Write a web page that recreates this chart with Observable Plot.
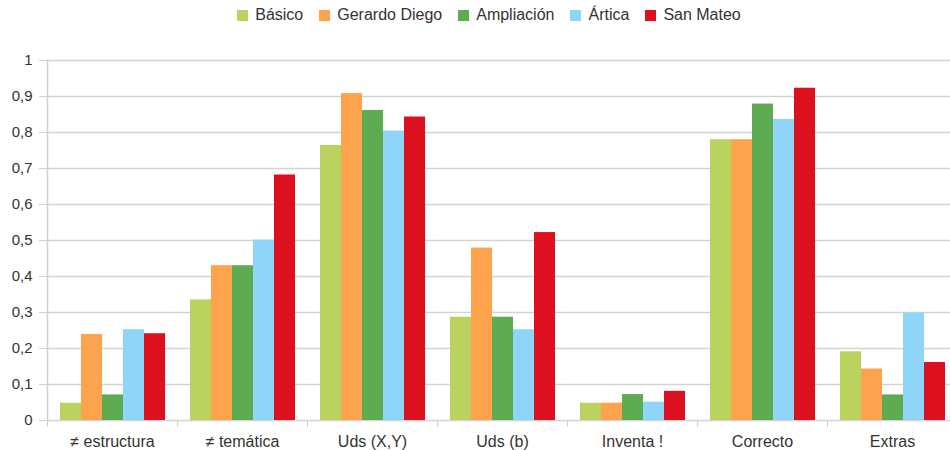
<!DOCTYPE html>
<html>
<head>
<meta charset="utf-8">
<script src="https://cdn.jsdelivr.net/npm/d3@7"></script>
<script src="https://cdn.jsdelivr.net/npm/@observablehq/plot@0.6"></script>
<style>
  html, body { margin: 0; padding: 0; background: #fff; overflow: hidden; }
  body { width: 950px; font-family: "Liberation Sans", Arial, sans-serif; }
  #legend { height: 30px; display: flex; justify-content: center; align-items: center; gap: 16px; font-size: 16px; color: #333; padding-left: 28px; box-sizing: border-box; }
  #legend .item { display: flex; align-items: center; gap: 7px; }
  #legend .sw { width: 11px; height: 11px; display: inline-block; }
</style>
</head>
<body>
<div id="legend"></div>
<div id="chart"></div>
<script>
const categories = ["≠ estructura", "≠ temática", "Uds (X,Y)", "Uds (b)", "Inventa !", "Correcto", "Extras"];
const series = ["Básico", "Gerardo Diego", "Ampliación", "Ártica", "San Mateo"];
const colors = ["#b9d35e", "#fea34d", "#5fab51", "#8ed5f7", "#dc101f"];

const basico       = [0.048, 0.335, 0.764, 0.287, 0.048, 0.780, 0.191];
const gerardoDiego = [0.239, 0.430, 0.908, 0.479, 0.048, 0.780, 0.143];
const ampliacion   = [0.071, 0.430, 0.861, 0.287, 0.072, 0.879, 0.071];
const artica       = [0.252, 0.501, 0.804, 0.252, 0.051, 0.836, 0.299];
const sanMateo     = [0.241, 0.682, 0.843, 0.522, 0.081, 0.923, 0.161];

const yTicks = [0, 0.1, 0.2, 0.3, 0.4, 0.5, 0.6, 0.7, 0.8, 0.9, 1];

const valuesBySeries = [basico, gerardoDiego, ampliacion, artica, sanMateo];
const data = [];
categories.forEach((c, i) => {
  series.forEach((s, j) => data.push({category: c, series: s, value: valuesBySeries[j][i]}));
});

// legend
const legend = document.getElementById("legend");
series.forEach((s, j) => {
  const it = document.createElement("span");
  it.className = "item";
  it.innerHTML = `<span class="sw" style="background:${colors[j]}"></span><span>${s}</span>`;
  legend.appendChild(it);
});

const width = 950, marginLeft = 47, marginRight = -7;
const fxStep = (width - marginLeft - marginRight) / categories.length;
const fmt = d => String(d).replace(".", ",");

const chart = Plot.plot({
  width,
  height: 420,
  marginTop: 30,
  marginBottom: 30,
  marginLeft,
  marginRight,
  style: {fontFamily: "'Liberation Sans', Arial, sans-serif", background: "#fff"},
  fx: {domain: categories, padding: 0, axis: null, label: null},
  x: {domain: series, paddingInner: 0, paddingOuter: 0.47, axis: null},
  y: {domain: [0, 1], axis: null},
  color: {domain: series, range: colors},
  marks: [
    Plot.gridY(yTicks, {stroke: "#d4d4d4", strokeOpacity: 1, strokeWidth: 1.5}),
    Plot.barY(data, {fx: "category", x: "series", y: "value", fill: "series"}),
    Plot.frame({anchor: "left", facetAnchor: "left", stroke: "#cfcfcf", strokeWidth: 1.5}),
    Plot.axisY({ticks: yTicks, tickSize: 8, tickPadding: 7, tickFormat: fmt, fontSize: 15, fill: "#333", stroke: "#cfcfcf", label: null}),
    Plot.axisFx({anchor: "bottom", text: null, tickSize: 7, dx: -fxStep / 2, stroke: "#cfcfcf", label: null}),
    Plot.axisFx({anchor: "bottom", tickSize: 0, tickPadding: 15, fontSize: 16, fill: "#333", label: null})
  ]
});
document.getElementById("chart").appendChild(chart);
</script>
</body>
</html>
